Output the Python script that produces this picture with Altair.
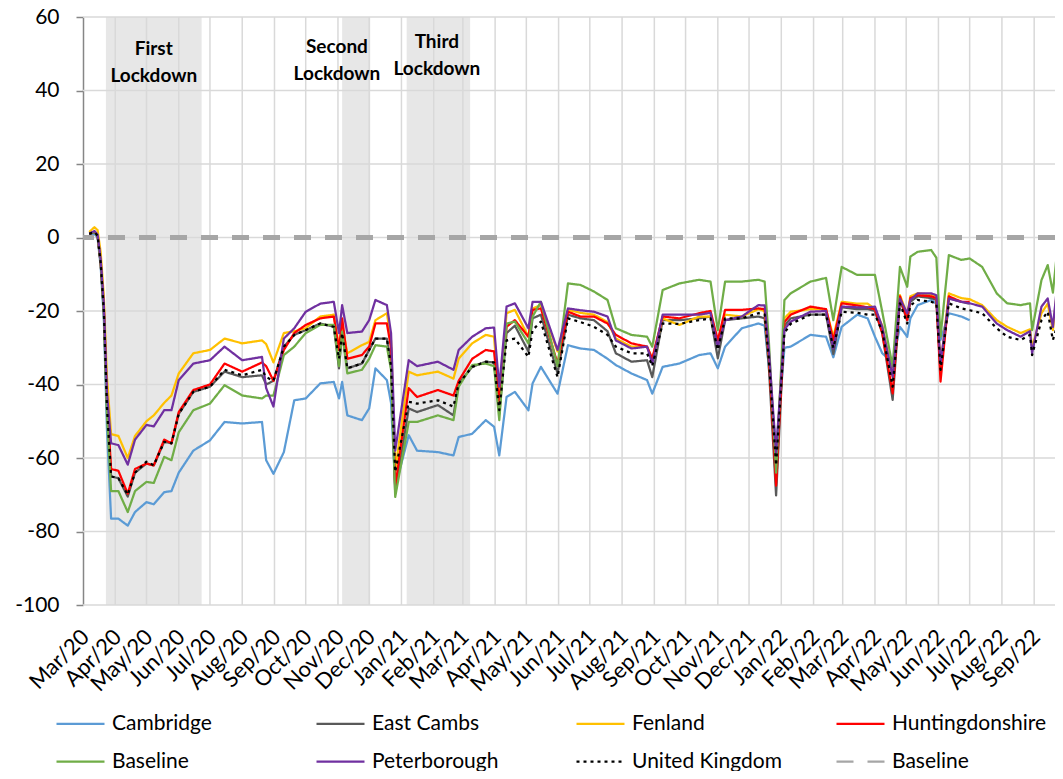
import altair as alt
import pandas as pd

# ---- data ----
dates = [
    "2020-03-07", "2020-03-12", "2020-03-15", "2020-03-18", "2020-03-21", "2020-03-24",
    "2020-03-28", "2020-04-04", "2020-04-13", "2020-04-20", "2020-05-01", "2020-05-08",
    "2020-05-18", "2020-05-25", "2020-06-01", "2020-06-15", "2020-07-01", "2020-07-15",
    "2020-08-01", "2020-08-20", "2020-08-24", "2020-08-31", "2020-09-10", "2020-09-20",
    "2020-10-01", "2020-10-15", "2020-10-28", "2020-11-02", "2020-11-05", "2020-11-10",
    "2020-11-24", "2020-12-01", "2020-12-07", "2020-12-18", "2020-12-22", "2020-12-26",
    "2021-01-08", "2021-01-16", "2021-02-05", "2021-02-20", "2021-02-25", "2021-03-10",
    "2021-03-23", "2021-03-31", "2021-04-05", "2021-04-12", "2021-04-20", "2021-05-03",
    "2021-05-07", "2021-05-15", "2021-05-31", "2021-06-10", "2021-06-22", "2021-07-05",
    "2021-07-18", "2021-07-26", "2021-08-10", "2021-08-25", "2021-08-30", "2021-09-09",
    "2021-09-25", "2021-10-14", "2021-10-25", "2021-11-01", "2021-11-08", "2021-11-24",
    "2021-12-10", "2021-12-16", "2021-12-20", "2021-12-27",
    "2022-01-04", "2022-01-10", "2022-01-29", "2022-02-13", "2022-02-20", "2022-02-28",
    "2022-03-15", "2022-03-25", "2022-04-01", "2022-04-08", "2022-04-18", "2022-04-25",
    "2022-05-02", "2022-05-05", "2022-05-12", "2022-05-25", "2022-05-30", "2022-06-03",
    "2022-06-11", "2022-06-23", "2022-07-01", "2022-07-13", "2022-07-27", "2022-08-06",
    "2022-08-19", "2022-08-28", "2022-08-30", "2022-09-08", "2022-09-14", "2022-09-19",
    "2022-09-22", "2022-09-29",
]

N = None
cambridge = [
    0.5, 1.0, 0.0, -8, -22, -52, -76.5, -76.5, -78.4, -74.7, -72, -72.6, -69.3, -69, -64, -58,
    -55.2, -50.2, -50.6, -50.2, -60.6, -64.3, -58.4, -44.3, -43.8, -39.7, -39.3, -43.8, -39.3,
    -48.4, -49.7, -46.5, -35.6, -38.8, -45, -68,
    -53.8, -58, -58.4, -59.3, -54.3, -53.4, -49.7, -51.5, -59.3, -43.4, -42, -47, -39.7, -35.2,
    -42.5, -29.3, -30.2, -30.6, -33, -34.7, -37, -38.8, -42.5, -35.2, -34.3, -32, -31.5, -35.6,
    -29.7, -24.7, -23.4, -24, -35, -58,
    -30, -29.7, -26.5, -27, -32.6, -24.3, -21, -22, -27, -31.5, -34, -24.3, -27, -22, -18.4, -17,
    -18, -27.9, -20.6, -21.5, -22.5, N, N, N, N, N, N, N, N, N, N, N,
]
east_cambs = [
    1.0, 1.5, 0.5, -7, -20, -46, -65, -65.5, -70.5, -64, -61.5, -62, -55.6, -56, -48, -42,
    -40.6, -36.5, -38, -37.5, -40, -39, -29.7, -26.5, -25.2, -23.4, -24.3, -35.6, -25.6, -35.6,
    -34.3, -30.6, -27.5, -27.5, -35, -69.7,
    -46.5, -47.5, -45.6, -48.4, -39.7, -35.2, -33.8, -34, -48, -26, -24, -31, -22, -21, -37,
    -21, -22, -22.5, -25.5, -31.5, -33.8, -33.4, -38, -22.5, -22.5, -22, -21.5, -32.9, -22.5,
    -22, -21.5, -22, -35, -70.2,
    -24, -22, -21, -21, -31.7, -19, -19.5, -19.5, -20, -26, -44.2, -17, -22.5, -17.5, -16,
    -16.5, -17, -37, -16.5, -17.5, -18, N, N, N, N, N, N, N, N, N, N, N,
]
fenland = [
    1.5, 2.8, 2.0, -4, -16, -38, -53.5, -54, -60, -54, -50, -48.4, -45, -43, -37, -31.5,
    -30.6, -27.5, -28.8, -28, -29, -34, -26, -25.5, -24.7, -21.5, -21, -30, -24, -31.5, -29.3,
    -28.4, -22.5, -20.6, -28, -63.4,
    -36.5, -37.5, -36.5, -38.4, -33, -28.8, -26.5, -27, -45, -20.6, -19.7, -27, -19.3, -18.4,
    -31, -19.7, -20.5, -21, -23, -27.5, -29.7, -29.7, -33, -22, -23.8, -21.5, -21.5, -28, -21,
    -21.5, -19.5, -20, -32, -62,
    -22, -20.2, -19.5, -19.5, -27, -17.5, -18, -18, -19.5, -24, -38, -15.7, -21, -16, -15.2,
    -15.5, -16, -35, -15.2, -16.5, -16.8, -18.4, -22.5, -24.3, -26, -25, -30, -20.6, -18,
    -25.2, -17, -16,
]
huntingdonshire = [
    1.0, 1.5, 0.5, -7, -19, -44, -63, -63.5, -69.7, -63, -61.5, -62, -55, -56, -47.5, -41.5,
    -40, -34.3, -36.5, -34, -35, -39, -30.6, -26, -23.8, -22, -21.5, -30.6, -22, -33, -32,
    -29.7, -23.4, -23.4, -30, -68,
    -41, -43.4, -41.5, -43, -39, -33, -30.6, -31, -45, -24.3, -22.5, -27, -19.7, -19.3, -34.3,
    -20.2, -21.5, -21.5, -23.4, -26.5, -28.8, -29.7, -33, -21.5, -22, -20.6, -20, -28, -19.7,
    -19.7, -19.3, -19.5, -32, -67.5,
    -23, -21, -18.8, -19.5, -28, -17.9, -18.5, -19, -19.5, -26, -42.4, -16, -22.5, -16.5,
    -15.7, -16, -16.5, -39.2, -16, -17.5, -17.5, N, N, N, N, N, N, N, N, N, N, N,
]
baseline_green = [
    1.0, 1.5, 0.5, -7, -20, -48, -69, -69, -74.7, -69, -66.5, -66.8, -59.7, -60.6, -53, -47,
    -45.2, -40.2, -43, -43.8, -43, -43, -32, -29.7, -26, -23.8, -23.8, -35, -25.6, -37, -36,
    -33, -29.3, -29.7, -36, -70.6,
    -50.2, -50.2, -48.4, -49.7, -40.6, -34.7, -34.3, -35, -49.7, -23.4, -22.9, -28.8, -21.5,
    -17.5, -35, -12.5, -12.9, -14.7, -17, -24.7, -26.5, -27, -29.7, -14.3, -12.5, -11.5, -12,
    -25.2, -12, -12, -11.5, -12, -28, -64,
    -17, -15.2, -12, -11, -22.5, -8, -10.2, -10.2, -10.2, -20.2, -35.2, -8, -13.4, -5.2, -3.9,
    -3.4, -5.5, -27, -4.8, -6.1, -5.7, -8, -15.2, -17.9, -18.4, -17.9, -25.2, -11.6, -7.5,
    -15, -6.6, -6.5,
]
peterborough = [
    1.0, 1.8, 0.8, -6, -18, -42, -56, -56.5, -61.8, -55, -51, -51.4, -47, -47, -38.8, -34.3,
    -33.4, -29.7, -33.4, -32.5, -41, -46, -27.5, -24.7, -20.2, -18, -17.5, -26, -18.4, -26,
    -25.6, -22.5, -17, -18.4, -26, -58,
    -33.4, -35, -33.8, -36, -30.6, -27, -24.7, -24.5, -40.6, -18.8, -17.9, -24.7, -17.5, -17.5,
    -30.6, -19.3, -19.8, -20.2, -21.5, -28, -30.2, -29.7, -34.3, -21, -21, -21, -20.5, -29.7,
    -22.5, -21.5, -18.4, -18.5, -30.6, -58.5,
    -25, -22.9, -20.2, -20, -30.2, -18.8, -19, -19, -18.8, -24.3, -37.9, -16.6, -20.6, -17,
    -15.2, -15.2, -15.7, -34.3, -16.6, -17.5, -17.9, -18.8, -23.4, -25.2, -27, -25.5, -31.5,
    -18.8, -16.6, -24.3, -16, -16,
]
united_kingdom = [
    1.0, 1.5, 0.5, -7, -20, -46, -65, -65.5, -70, -64, -61, -62, -55.6, -56, -48, -42, -40.6,
    -36, -37.5, -36, -38, -39, -29.7, -26.5, -25.2, -23.4, -24.3, -33, -26, -35.6, -34.3,
    -30.6, -27.5, -27.5, -35, -63.8,
    -44.7, -45.2, -44.3, -46, -39.7, -35.2, -33.8, -34, -47, -28, -27.5, -32.5, -25.2, -22.9,
    -38, -22, -23, -24.3, -26.5, -29.7, -31.5, -31.5, -35, -23.4, -23.5, -22.5, -22, -30.6,
    -22, -22, -20.6, -21, -33, -62,
    -26, -23.5, -21, -21, -30, -20.2, -20.5, -21, -21, -25.5, -40.6, -17.9, -23.4, -18.5, -17,
    -17.5, -18, -36, -17.9, -19.3, -19.8, -20.6, -24.7, -27, -27.9, -26.5, -32, -22.5, -20.2,
    -27.9, -25, -27,
]

lockdown_start = ["2020-03-23", "2020-11-05", "2021-01-06"]
lockdown_end = ["2020-06-23", "2020-12-02", "2021-03-08"]
lockdown_text = ["First\nLockdown", "Second\nLockdown", "Third\nLockdown"]
lockdown_text_date = ["2020-05-08", "2020-10-31", "2021-02-04"]
lockdown_text_value = [51.3, 51.8, 53.2]

series_names = ["Cambridge", "East Cambs", "Fenland", "Huntingdonshire",
                "Baseline", "Peterborough", "United Kingdom", "Baseline ref"]
series_colors = ["#5B9BD5", "#595959", "#FFC000", "#FF0000",
                 "#70AD47", "#7030A0", "#000000", "#A6A6A6"]
series_dash = [[1, 0], [1, 0], [1, 0], [1, 0], [1, 0], [1, 0], [3, 4], [17, 14]]
series_width = [2.25, 2.25, 2.25, 2.25, 2.25, 2.25, 3, 4.5]

y_ticks = [-100, -80, -60, -40, -20, 0, 20, 40, 60]
month_ticks = [d.strftime("%Y-%m-%d") for d in pd.date_range("2020-03-01", "2022-09-01", freq="MS")]

# ---- tables ----
series_values = [cambridge, east_cambs, fenland, huntingdonshire,
                 baseline_green, peterborough, united_kingdom]
rows = []
for name, vals in zip(series_names[:7], series_values):
    for d, v in zip(dates, vals):
        if v is not None:
            rows.append({"date": d, "value": v, "series": name})
lines_df = pd.DataFrame(rows)

lock_df = pd.DataFrame({"start": lockdown_start, "end": lockdown_end})
text_df = pd.DataFrame({"date": lockdown_text_date, "value": lockdown_text_value,
                        "label": lockdown_text})
vgrid_df = pd.DataFrame({"date": month_ticks[1:]})
hgrid_df = pd.DataFrame({"value": y_ticks})

FONT = "Lato"

x_scale = alt.Scale(type="utc",
                    domain=[alt.DateTime(year=2020, month=3, date=1, utc=True),
                            alt.DateTime(year=2022, month=9, date=21, utc=True)])
x_axis = alt.Axis(title=None, format="%b/%y", labelAngle=-45, labelAlign="right",
                  labelBaseline="middle", labelPadding=28, labelOffset=2,
                  values=[alt.DateTime(year=int(m[:4]), month=int(m[5:7]), date=1, utc=True)
                          for m in month_ticks],
                  domain=False, ticks=False, tickSize=0, grid=False, labelOverlap=False,
                  labelFont=FONT, labelFontSize=22, labelColor="#000000")
y_scale = alt.Scale(domain=[-100, 60], nice=False, zero=False)
y_axis = alt.Axis(title=None, values=y_ticks, grid=False, domainColor="#868686",
                  domainWidth=1.5, tickColor="#868686", tickWidth=1.5, tickSize=7,
                  labelPadding=17, labelFont=FONT, labelFontSize=21, labelColor="#000000",
                  labelExpr="'' + datum.value")

legend = alt.Legend(title=None, orient="none", legendX=-13, legendY=696, columns=4,
                    direction="horizontal", gridAlign="all", columnPadding=45,
                    rowPadding=16, padding=0,
                    symbolType="M-4,0L4,0", symbolSize=144, labelOffset=21,
                    labelFont=FONT, labelFontSize=21, labelColor="#000000", labelLimit=400,
                    labelExpr="datum.label == 'Baseline ref' ? 'Baseline' : datum.label")

color_enc = alt.Color("series:N", scale=alt.Scale(domain=series_names, range=series_colors),
                      legend=legend)
dash_enc = alt.StrokeDash("series:N", scale=alt.Scale(domain=series_names, range=series_dash),
                          legend=legend)
width_enc = alt.StrokeWidth("series:N", scale=alt.Scale(domain=series_names, range=series_width),
                            legend=legend)

shade = alt.Chart(lock_df).mark_rect(color="#E7E7E7").encode(
    x=alt.X("start:T", scale=x_scale, axis=x_axis),
    x2="end:T",
    y=alt.Y(datum=60, type="quantitative", scale=y_scale, axis=y_axis),
    y2=alt.datum(-100),
)

vgrid = alt.Chart(vgrid_df).mark_rule(color="#D9D9D9", strokeWidth=1.5).encode(
    x=alt.X("date:T", scale=x_scale, axis=x_axis)
)
hgrid = alt.Chart(hgrid_df).mark_rule(color="#D9D9D9", strokeWidth=1.5).encode(
    y=alt.Y("value:Q", scale=y_scale, axis=y_axis)
)

line_layers = []
for name in series_names[:7]:
    line_layers.append(
        alt.Chart(lines_df).transform_filter(alt.datum.series == name)
        .mark_line(clip=True, strokeCap="butt", strokeJoin="round")
        .encode(
            x=alt.X("date:T", scale=x_scale, axis=x_axis),
            y=alt.Y("value:Q", scale=y_scale, axis=y_axis),
            color=color_enc,
            strokeDash=dash_enc,
            strokeWidth=width_enc,
        )
    )

baseline_rule = alt.Chart(hgrid_df).mark_rule(
    color="#A6A6A6", strokeWidth=4.5, strokeDash=[17, 14]
).encode(y=alt.Y(datum=0, type="quantitative", scale=y_scale, axis=y_axis))

labels = alt.Chart(text_df).mark_text(
    font=FONT, fontWeight="bold", fontSize=19, lineBreak="\n", lineHeight=27,
    align="center", baseline="middle", color="#000000"
).encode(
    x=alt.X("date:T", scale=x_scale, axis=x_axis),
    y=alt.Y("value:Q", scale=y_scale, axis=y_axis),
    text="label:N",
)

chart = alt.layer(shade, vgrid, hgrid, *line_layers, baseline_rule, labels).properties(
    width=972, height=588,
    padding={"left": 75, "top": 9, "right": 0, "bottom": 166},
    autosize=alt.AutoSizeParams(type="none"),
).configure_view(stroke=None)

chart.save("out.html", embed_options={"renderer": "svg", "actions": False})
